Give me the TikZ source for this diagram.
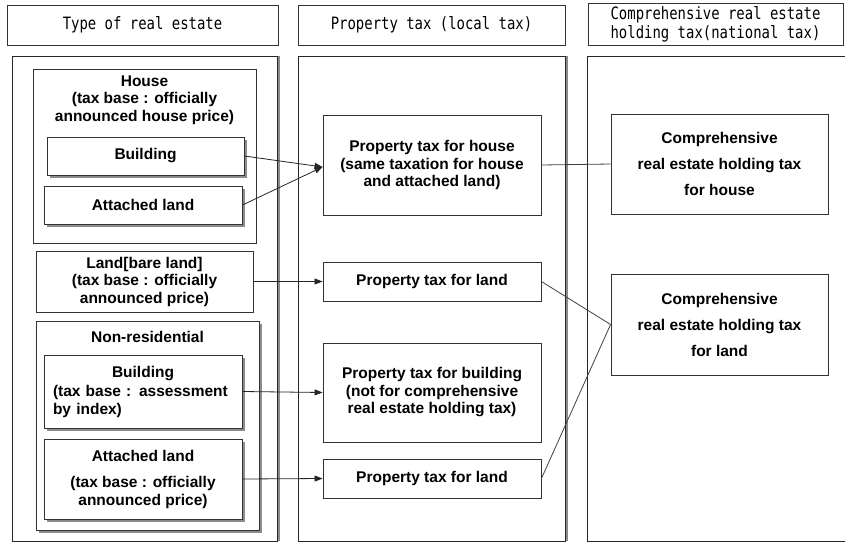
\documentclass[tikz,border=0pt]{standalone}
\usepackage{fontspec}
\setmainfont{Liberation Sans}
\newfontfamily\hdrfont[FakeStretch=0.82]{DejaVu Sans Mono}
\usetikzlibrary{arrows.meta,shadows}

\begin{document}
\begin{tikzpicture}[x=1pt, y=-1pt]
    \tikzstyle{re_head}      = [draw = black!80, line width=0.9pt, inner sep=0pt, align=center, font=\hdrfont\fontsize{17}{19}\selectfont]
    \tikzstyle{re_col}       = [draw = black!85, line width=0.9pt, inner sep=0pt, fill=white]
    \tikzstyle{re_col__shd}  = [re_col, drop shadow={shadow xshift=3pt, shadow yshift=0pt, fill=black!45, opacity=1}]
    \tikzstyle{re_box}       = [draw = black!80, line width=0.9pt, inner sep=0pt, fill=white, align=center, font=\bfseries\fontsize{15.5}{17.5}\selectfont]
    \tikzstyle{re_box__shd}  = [re_box, drop shadow={shadow xshift=2.5pt, shadow yshift=-2.5pt, fill=black!45, opacity=1}]
    \tikzstyle{re_txt}       = [inner sep=0pt, align=center, font=\bfseries\fontsize{15.5}{17.5}\selectfont]
    \tikzstyle{re_arrow}     = [draw = black!85, line width=0.8pt, -{Triangle[length=8pt, width=6pt]}]
    \tikzstyle{re_line}      = [draw = black!75, line width=0.8pt]

    \useasboundingbox (0, 0) rectangle (845, 543);

    % column heads
    \node[re_head, minimum width=271pt, minimum height=40pt] at (142.5, 25) (h_type) {Type of real estate};
    \node[re_head, minimum width=267pt, minimum height=40pt] at (431.5, 25) (h_prop) {Property tax (local tax)};
    \node[re_head, minimum width=255pt, minimum height=42pt] at (715.5, 24) (h_comp) {Comprehensive real estate\\holding tax(national tax)};

    % columns
    \node[re_col__shd, minimum width=265pt, minimum height=485pt] at (144.5, 298.5) (c_type) {};
    \node[re_col__shd, minimum width=267pt, minimum height=485pt] at (431.5, 298.5) (c_prop) {};
    \node[re_col,      minimum width=261pt, minimum height=485pt] at (717.5, 298.5) (c_comp) {};

    % type of real estate
    \node[re_box, minimum width=223pt, minimum height=174pt] at (144.5, 156) (house) {};
    \node[re_txt] at (144.5, 100) (house_lbl) {House\\(tax base : officially\\announced house price)};
    \node[re_box__shd, minimum width=197pt, minimum height=38pt] at (145.5, 156) (bld_h) {Building};
    \node[re_box__shd, minimum width=198pt, minimum height=38pt] at (143.0, 205) (att_h) {Attached land};

    \node[re_box, minimum width=217pt, minimum height=61pt] at (144.5, 281.5) (bare) {Land[bare land]\\(tax base : officially\\announced price)};

    \node[re_box__shd, minimum width=223pt, minimum height=209pt] at (147.5, 425.5) (nonres) {};
    \node[re_txt] at (147.5, 337) (nonres_lbl) {Non-residential};
    \node[re_box__shd, minimum width=198pt, minimum height=73pt, text width=180pt, align=left] at (143.0, 391.5) (bld_n)
      {\makebox[\linewidth]{Building}\\[2pt](tax base : assessment\\by index)};
    \node[re_box__shd, minimum width=198pt, minimum height=80pt] at (143.0, 479) (att_n)
      {Attached land\\[9pt](tax base : officially\\announced price)};

    % property tax
    \node[re_box, minimum width=218pt, minimum height=100pt] at (432, 165)   (pt_house) {Property tax for house\\(same taxation for house\\and attached land)};
    \node[re_box, minimum width=218pt, minimum height=39pt]  at (432, 281.5) (pt_land1) {Property tax for land};
    \node[re_box, minimum width=218pt, minimum height=99pt]  at (432, 392.5) (pt_bld)   {Property tax for building\\(not for comprehensive\\real estate holding tax)};
    \node[re_box, minimum width=218pt, minimum height=39pt]  at (432, 478.5) (pt_land2) {Property tax for land};

    % comprehensive tax
    \node[re_box, minimum width=217pt, minimum height=100pt] at (719.5, 164)   (ch_house) {Comprehensive\\[8.5pt]real estate holding tax\\[8.5pt]for house};
    \node[re_box, minimum width=217pt, minimum height=101pt] at (719.5, 324.5) (ch_land)  {Comprehensive\\[8.5pt]real estate holding tax\\[8.5pt]for land};

    \draw[re_arrow] (bld_h.east) -- ([yshift=-2pt]pt_house.west);
    \draw[re_arrow] (att_h.east) -- ([yshift=-2pt]pt_house.west);
    \draw[re_arrow] (bare.east)  -- (pt_land1.west);
    \draw[re_arrow] (bld_n.east) -- (pt_bld.west);
    \draw[re_arrow] (att_n.east) -- (pt_land2.west);

    \draw[re_line] (pt_house.east) -- (ch_house.west);
    \draw[re_line] (pt_land1.east) -- (ch_land.west);
    \draw[re_line] (pt_land2.east) -- (ch_land.west);
  \end{tikzpicture}
\end{document}
